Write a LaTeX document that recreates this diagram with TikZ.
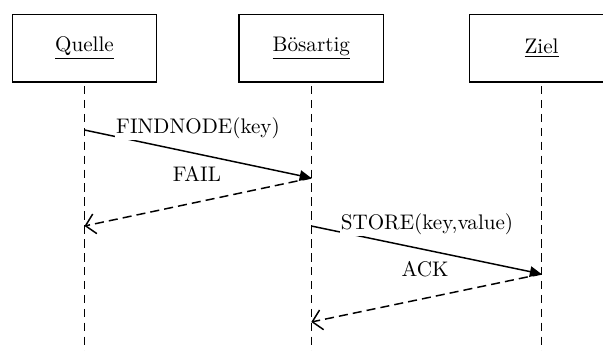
\documentclass[tikz,border=0pt]{standalone}
\usetikzlibrary{arrows.meta}
\begin{document}
\begin{tikzpicture}[x=0.474pt,y=-0.474pt,
  actor/.style={draw,line width=0.7pt,minimum width=68.5pt,minimum height=31.8pt,inner sep=0pt},
  lifeline/.style={line width=0.7pt,dash pattern=on 4pt off 2.6pt},
  callmsg/.style={line width=0.7pt,-{Triangle[length=5.5pt,width=5pt]}},
  replymsg/.style={line width=0.7pt,dash pattern=on 4.3pt off 2.4pt,-{Straight Barb[length=4.5pt,width=9.5pt]}},
  msglabel/.style={fill=white,inner sep=0.6pt,anchor=base}]
\useasboundingbox (0,0) rectangle (603,350);
% actors
\node[actor] (q) at (84.5,48.3) {\underline{Quelle}};
\node[actor] (b) at (311.3,48.3) {\underline{Bösartig}};
\node[actor] (z) at (541.5,48.3) {\underline{Ziel}};
% lifeline ends
\coordinate (qt) at (84.5,86);
\coordinate (bt) at (311.3,86);
\coordinate (zt) at (541.5,86);
\coordinate (qe) at (84.5,352);
\coordinate (be) at (311.3,352);
\coordinate (ze) at (541.5,352);
\draw[lifeline] (qt) -- (qe);
\draw[lifeline] (bt) -- (be);
\draw[lifeline] (zt) -- (ze);
% message points
\coordinate (m1s) at (84.5,130);
\coordinate (m1e) at (311.3,178);
\coordinate (m2e) at (84.5,226);
\coordinate (m3s) at (311.3,226);
\coordinate (m3e) at (541.5,274);
\coordinate (m4e) at (311.3,322);
\draw[callmsg] (m1s) -- (m1e);
\draw[replymsg] (m1e) -- (m2e);
\draw[callmsg] (m3s) -- (m3e);
\draw[replymsg] (m3e) -- (m4e);
% labels
\node[msglabel] (l1) at (198,133.3) {FINDNODE(key)};
\node[msglabel] (l2) at (197,181.7) {FAIL};
\node[msglabel] (l3) at (427,229.3) {STORE(key,value)};
\node[msglabel] (l4) at (425,276.7) {ACK};
\end{tikzpicture}
\end{document}
